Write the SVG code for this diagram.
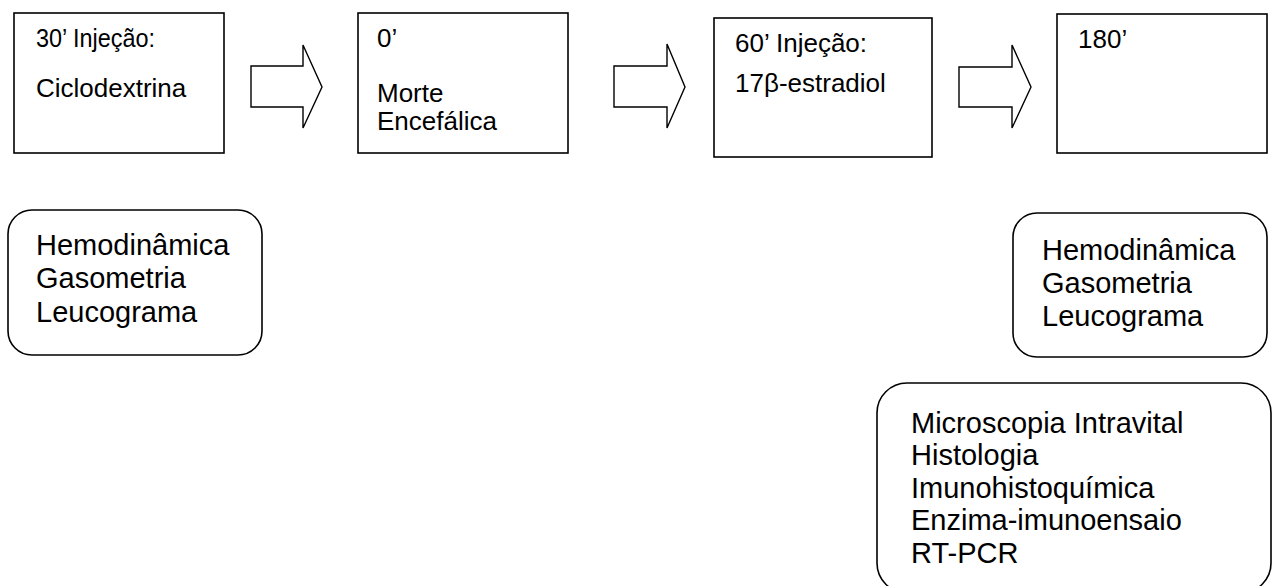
<svg xmlns="http://www.w3.org/2000/svg" width="1277" height="586" viewBox="0 0 1277 586">
<style>
.box{fill:#fff;stroke:#000;stroke-width:1.6}
.arr{fill:#fff;stroke:#000;stroke-width:1.4;stroke-linejoin:miter}
.t{font-family:"Liberation Sans",Arial,sans-serif;font-size:26px;fill:#000}
.tl{font-family:"Liberation Sans",Arial,sans-serif;font-size:29px;fill:#000}
</style>
<rect width="1277" height="586" fill="#fff"/>
<g id="connectors">
<polygon class="arr" points="251,66 303,66 303,45 322,87 303,128 303,107 251,107"/>
<polygon class="arr" points="614,66 667,66 667,44 685,87 667,128 667,107 614,107"/>
<polygon class="arr" points="959,67 1012,67 1012,45 1031,87 1012,128 1012,107 959,107"/>
</g>
<g id="n1">
<rect class="box" x="14" y="13" width="210" height="140"/>
<text class="t" x="36" y="47" textLength="119" lengthAdjust="spacingAndGlyphs">30’ Injeção:</text>
<text class="t" x="36" y="97">Ciclodextrina</text>
</g>
<g id="n2">
<rect class="box" x="358" y="13" width="210" height="140"/>
<text class="t" x="377" y="47">0’</text>
<text class="t" x="377" y="102">Morte</text>
<text class="t" x="377" y="130">Encefálica</text>
</g>
<g id="n3">
<rect class="box" x="714" y="18" width="218" height="139"/>
<text class="t" x="735" y="52">60’ Injeção:</text>
<text class="t" x="735" y="92">17β-estradiol</text>
</g>
<g id="n4">
<rect class="box" x="1057" y="14" width="210" height="139"/>
<text class="t" x="1078" y="48">180’</text>
</g>
<g id="r1">
<rect class="box" x="8" y="210" width="254" height="145" rx="24" ry="24"/>
<text class="tl" x="36" y="255">Hemodinâmica</text>
<text class="tl" x="36" y="288">Gasometria</text>
<text class="tl" x="36" y="322">Leucograma</text>
</g>
<g id="r2">
<rect class="box" x="1013" y="213" width="254" height="144" rx="24" ry="24"/>
<text class="tl" x="1042" y="260">Hemodinâmica</text>
<text class="tl" x="1042" y="293">Gasometria</text>
<text class="tl" x="1042" y="326">Leucograma</text>
</g>
<g id="r3">
<rect class="box" x="877" y="383" width="394" height="210" rx="30" ry="30"/>
<text class="tl" x="911" y="433">Microscopia Intravital</text>
<text class="tl" x="911" y="465">Histologia</text>
<text class="tl" x="911" y="498">Imunohistoquímica</text>
<text class="tl" x="911" y="530">Enzima-imunoensaio</text>
<text class="tl" x="911" y="563">RT-PCR</text>
</g>
</svg>
